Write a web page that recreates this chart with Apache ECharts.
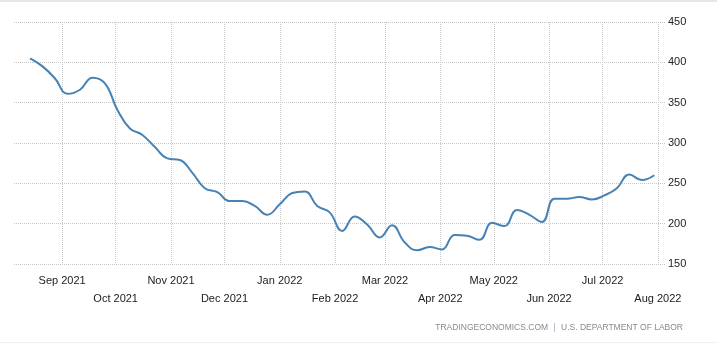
<!DOCTYPE html>
<html>
<head>
<meta charset="utf-8">
<script src="https://cdn.jsdelivr.net/npm/echarts@6/dist/echarts.min.js"></script>
<style>
html,body{margin:0;padding:0;background:#fff;}
#c{width:717px;height:351px;}
</style>
</head>
<body>
<div id="c"></div>
<script>
// Weekly dates (week ending)
var dates = ['2021-08-14','2021-08-21','2021-08-28','2021-09-04','2021-09-11','2021-09-18','2021-09-25',
'2021-10-02','2021-10-09','2021-10-16','2021-10-23','2021-10-30','2021-11-06','2021-11-13','2021-11-20',
'2021-11-27','2021-12-04','2021-12-11','2021-12-18','2021-12-25','2022-01-01','2022-01-08','2022-01-15',
'2022-01-22','2022-01-29','2022-02-05','2022-02-12','2022-02-19','2022-02-26','2022-03-05','2022-03-12',
'2022-03-19','2022-03-26','2022-04-02','2022-04-09','2022-04-16','2022-04-23','2022-04-30','2022-05-07',
'2022-05-14','2022-05-21','2022-05-28','2022-06-04','2022-06-11','2022-06-18','2022-06-25','2022-07-02',
'2022-07-09','2022-07-16','2022-07-23','2022-07-30'];
// Values (thousands)
var values = [405,395,380,361,366,381,374,341,318,310,295,281,279,263,244,239,228,228,222,211,224,238,240,
222,214,191,209,199,183,198,177,167,171,168,186,185,180,201,197,217,211,202,231,231,233,230,235,244,261,254,260];
// X tick positions and labels
var tickDates = ['2021-09-01','2021-10-01','2021-11-01','2021-12-01','2022-01-01','2022-02-01','2022-03-01',
'2022-04-01','2022-05-01','2022-06-01','2022-07-01','2022-08-01'];
var tickLabels = ['Sep 2021','Oct 2021','Nov 2021','Dec 2021','Jan 2022','Feb 2022','Mar 2022',
'Apr 2022','May 2022','Jun 2022','Jul 2022','Aug 2022'];
var xRange = ['2021-08-05','2022-08-05'];
var yMin = 150, yMax = 450, yStep = 50;
var sourceLeft = 'TRADINGECONOMICS.COM';
var sourceRight = 'U.S. DEPARTMENT OF LABOR';

// day numbers (days since epoch, UTC)
function dn(s){var p=s.split('-');return Date.UTC(+p[0],+p[1]-1,+p[2])/86400000;}
var seriesData = dates.map(function(d,i){return [dn(d), values[i]];});
var tickDn = tickDates.map(dn);

var chart = echarts.init(document.getElementById('c'), null, {renderer:'canvas'});
var font = 'Liberation Sans';
chart.setOption({
  animation:false,
  backgroundColor:'#fff',
  grid:{left:14,right:52,top:22,bottom:87,containLabel:false},
  xAxis:{
    type:'value',
    min:dn(xRange[0]), max:dn(xRange[1]),
    axisLine:{show:false},
    axisTick:{show:false, customValues:tickDn},
    splitLine:{show:true,lineStyle:{color:'#c8c8c8',type:'dotted',width:1}},
    axisLabel:{
      customValues:tickDn,
      color:'#222', fontFamily:font, fontSize:11, lineHeight:18, margin:8,
      formatter:function(v){
        var i = tickDn.indexOf(v);
        if(i<0) return '';
        return (i%2===1 ? '\n' : '') + tickLabels[i];
      }
    }
  },
  yAxis:{
    type:'value', position:'right', min:yMin, max:yMax, interval:yStep,
    axisLine:{show:false}, axisTick:{show:false},
    splitLine:{show:true,lineStyle:{color:'#c8c8c8',type:'dotted',width:1}},
    axisLabel:{color:'#222',fontFamily:font,fontSize:11,margin:3}
  },
  series:[{
    type:'line', data:seriesData, smooth:0.45, showSymbol:false,
    lineStyle:{color:'#4682b4',width:2}, itemStyle:{color:'#4682b4'}
  }],
  graphic:[
    {type:'rect',shape:{x:0,y:0,width:717,height:2},style:{fill:'#e6e6e6'}},
    {type:'rect',shape:{x:0,y:342,width:717,height:1},style:{fill:'#f0f0f0'}},
    {type:'text',right:34,top:322,style:{
      text:'{a|'+sourceLeft+'} {b||} {a|'+sourceRight+'}',
      rich:{a:{fill:'#8a8a8a',font:'8.5px "Liberation Sans"'},b:{fill:'#9aa6c0',font:'8.5px "Liberation Sans"',padding:[0,2,0,2]}}
    }}
  ]
});
</script>
</body>
</html>
